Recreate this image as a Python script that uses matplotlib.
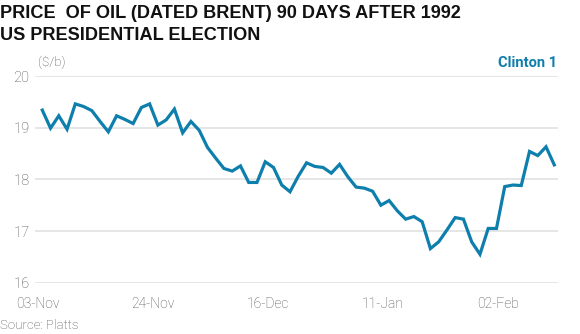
import matplotlib.pyplot as plt
import numpy as np

# Dated Brent, $/b, trading days after 3-Nov-1992
prices = [19.34, 18.99, 19.23, 18.97, 19.46, 19.41, 19.33, 19.12, 18.92, 19.23,
          19.16, 19.08, 19.39, 19.46, 19.05, 19.15, 19.36, 18.90, 19.12, 18.95,
          18.62, 18.41, 18.21, 18.16, 18.26, 17.94, 17.94, 18.34, 18.23, 17.89,
          17.76, 18.06, 18.32, 18.25, 18.23, 18.12, 18.29, 18.05, 17.85, 17.83,
          17.77, 17.50, 17.59, 17.39, 17.23, 17.28, 17.18, 16.66, 16.79, 17.02,
          17.26, 17.23, 16.79, 16.55, 17.05, 17.05, 17.86, 17.89, 17.88, 18.54,
          18.46, 18.63, 18.28]
date_labels = ["03-Nov", "24-Nov", "16-Dec", "11-Jan", "02-Feb"]
y_ticks = [16, 17, 18, 19, 20]
series_name = "Clinton 1"

blue = "#0e7fac"
grey = "#505050"

fig = plt.figure(figsize=(5.8, 3.34), dpi=100)
ax = fig.add_axes([35 / 580, 1 - 282.7 / 334, 523 / 580, 206.7 / 334])

x = np.arange(len(prices))
ax.plot(x, prices, color=blue, linewidth=2.3, solid_joinstyle="miter")

ax.set_ylim(16, 20)
ax.set_xlim(-0.88, 62.45)
ax.set_yticks(y_ticks)
ax.set_yticklabels([str(v) for v in y_ticks], fontfamily="Roboto", fontweight="light",
                   fontsize=10.5, color=grey)
ax.set_xticks(np.linspace(-0.5, 55.2, len(date_labels)))
ax.set_xticklabels(date_labels, fontfamily="Roboto", fontweight="light",
                   fontsize=10, color=grey)
ax.tick_params(axis="both", length=0)
ax.tick_params(axis="x", pad=10)
ax.tick_params(axis="y", pad=4)
ax.grid(axis="y", color="#e2e2e2", linewidth=1.2)
ax.set_axisbelow(True)
for s in ax.spines.values():
    s.set_visible(False)

fig.text(0, 1 - 18 / 334, "PRICE  OF OIL (DATED BRENT) 90 DAYS AFTER 1992",
         fontfamily="Liberation Sans", fontweight="bold", fontsize=13.1,
         va="baseline", color="#111111")
fig.text(0, 1 - 40 / 334, "US PRESIDENTIAL ELECTION",
         fontfamily="Liberation Sans", fontweight="bold", fontsize=13.1,
         va="baseline", color="#111111")
fig.text(38 / 580, 1 - 66 / 334, "($/b)", fontfamily="Roboto", fontweight="light",
         fontsize=9.5, color=grey, va="baseline")
fig.text(557 / 580, 1 - 67 / 334, series_name, fontfamily="Roboto", fontweight="bold",
         fontsize=10.5, color=blue, ha="right", va="baseline")
fig.text(0, 1 - 329 / 334, "Source: Platts", fontfamily="Roboto", fontweight="light",
         fontsize=9.5, color=grey, va="baseline")

fig.savefig("out.png", dpi=100)
